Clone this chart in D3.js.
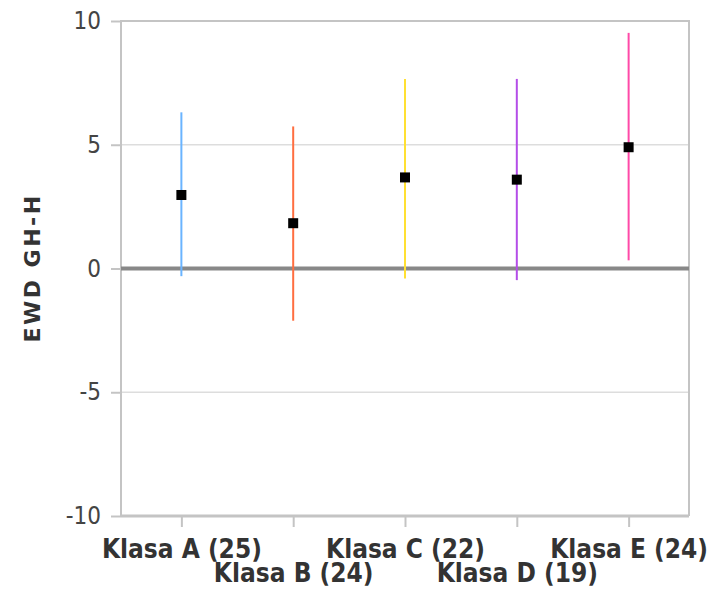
<!DOCTYPE html>
<html><head><meta charset="utf-8">
<script src="https://cdn.jsdelivr.net/npm/d3@7/dist/d3.min.js"></script>
<style>body{margin:0;background:#fff}</style>
</head><body>
<script>
const categories = ["Klasa A (25)", "Klasa B (24)", "Klasa C (22)", "Klasa D (19)", "Klasa E (24)"];
const means = [2.97, 1.83, 3.68, 3.59, 4.90];
const lows = [-0.31, -2.11, -0.40, -0.47, 0.33];
const highs = [6.31, 5.74, 7.66, 7.66, 9.52];
const colors = ["#6ab4ff", "#ff6e40", "#ffe033", "#b44de8", "#ff4aa8"];
const yTicks = [-10, -5, 0, 5, 10];
const yTitle = "EWD GH-H";

const W = 720, H = 595;
const L = 121, R = 689, T = 21, B = 516;
const svg = d3.select("body").append("svg").attr("width", W).attr("height", H);

const x = d3.scalePoint().domain(categories).range([L, R]).padding(0.54);
const y = d3.scaleLinear().domain([-10, 10]).range([B, T]);

// grid lines
svg.append("g").selectAll("line").data(yTicks.filter(d => d !== 0 && d !== -10 && d !== 10)).join("line")
  .attr("x1", L).attr("x2", R).attr("y1", d => y(d)).attr("y2", d => y(d))
  .attr("stroke", "#dddddd").attr("stroke-width", 1.5);

// frame
svg.append("path").attr("d", `M${L},${B}V${y(10)}H${R}V${B}`)
  .attr("fill", "none").attr("stroke", "#c4c4c4").attr("stroke-width", 2);

// y axis
const yAxis = d3.axisLeft(y).tickValues(yTicks).tickSize(10).tickPadding(10).tickFormat(d => String(d));
const ga = svg.append("g").attr("transform", `translate(${L},0)`).call(yAxis);
ga.select(".domain").remove();
ga.selectAll(".tick line").attr("stroke", "#c4c4c4").attr("stroke-width", 2);
ga.selectAll(".tick text").attr("font-family", "'DejaVu Sans Condensed', 'DejaVu Sans', sans-serif")
  .attr("font-size", 24).attr("fill", "#444");

// x axis
const xAxis = d3.axisBottom(x).tickSize(11).tickSizeOuter(0).tickFormat("");
const gx = svg.append("g").attr("transform", `translate(0,${B})`).call(xAxis);
gx.select(".domain").attr("stroke", "#c4c4c4").attr("stroke-width", 3).attr("d", `M${L},0H${R}`);
gx.selectAll(".tick line").attr("stroke", "#c4c4c4").attr("stroke-width", 2);
gx.selectAll(".tick").append("text")
  .attr("y", (d, i) => i % 2 === 0 ? 42 : 66)
  .attr("text-anchor", "middle")
  .attr("font-family", "'DejaVu Sans Condensed', 'DejaVu Sans', sans-serif")
  .attr("font-weight", "bold").attr("font-size", 26).attr("fill", "#333")
  .text(d => d);

// zero line
svg.append("line").attr("x1", L).attr("x2", R).attr("y1", y(0)).attr("y2", y(0))
  .attr("stroke", "#888").attr("stroke-width", 4);

// error bars
svg.append("g").selectAll("line").data(categories).join("line")
  .attr("x1", d => x(d)).attr("x2", d => x(d))
  .attr("y1", (d, i) => y(lows[i])).attr("y2", (d, i) => y(highs[i]))
  .attr("stroke", (d, i) => colors[i]).attr("stroke-width", 2);

// markers
svg.append("g").selectAll("rect").data(categories).join("rect")
  .attr("x", d => x(d) - 5).attr("y", (d, i) => y(means[i]) - 5)
  .attr("width", 10).attr("height", 10).attr("fill", "#000");

// y title
svg.append("text").attr("transform", `translate(40,268) rotate(-90)`)
  .attr("text-anchor", "middle")
  .attr("font-family", "'DejaVu Sans', sans-serif").attr("font-weight", "bold")
  .attr("font-size", 22).attr("letter-spacing", 2.5).attr("fill", "#333")
  .text(yTitle);
</script>
</body></html>
